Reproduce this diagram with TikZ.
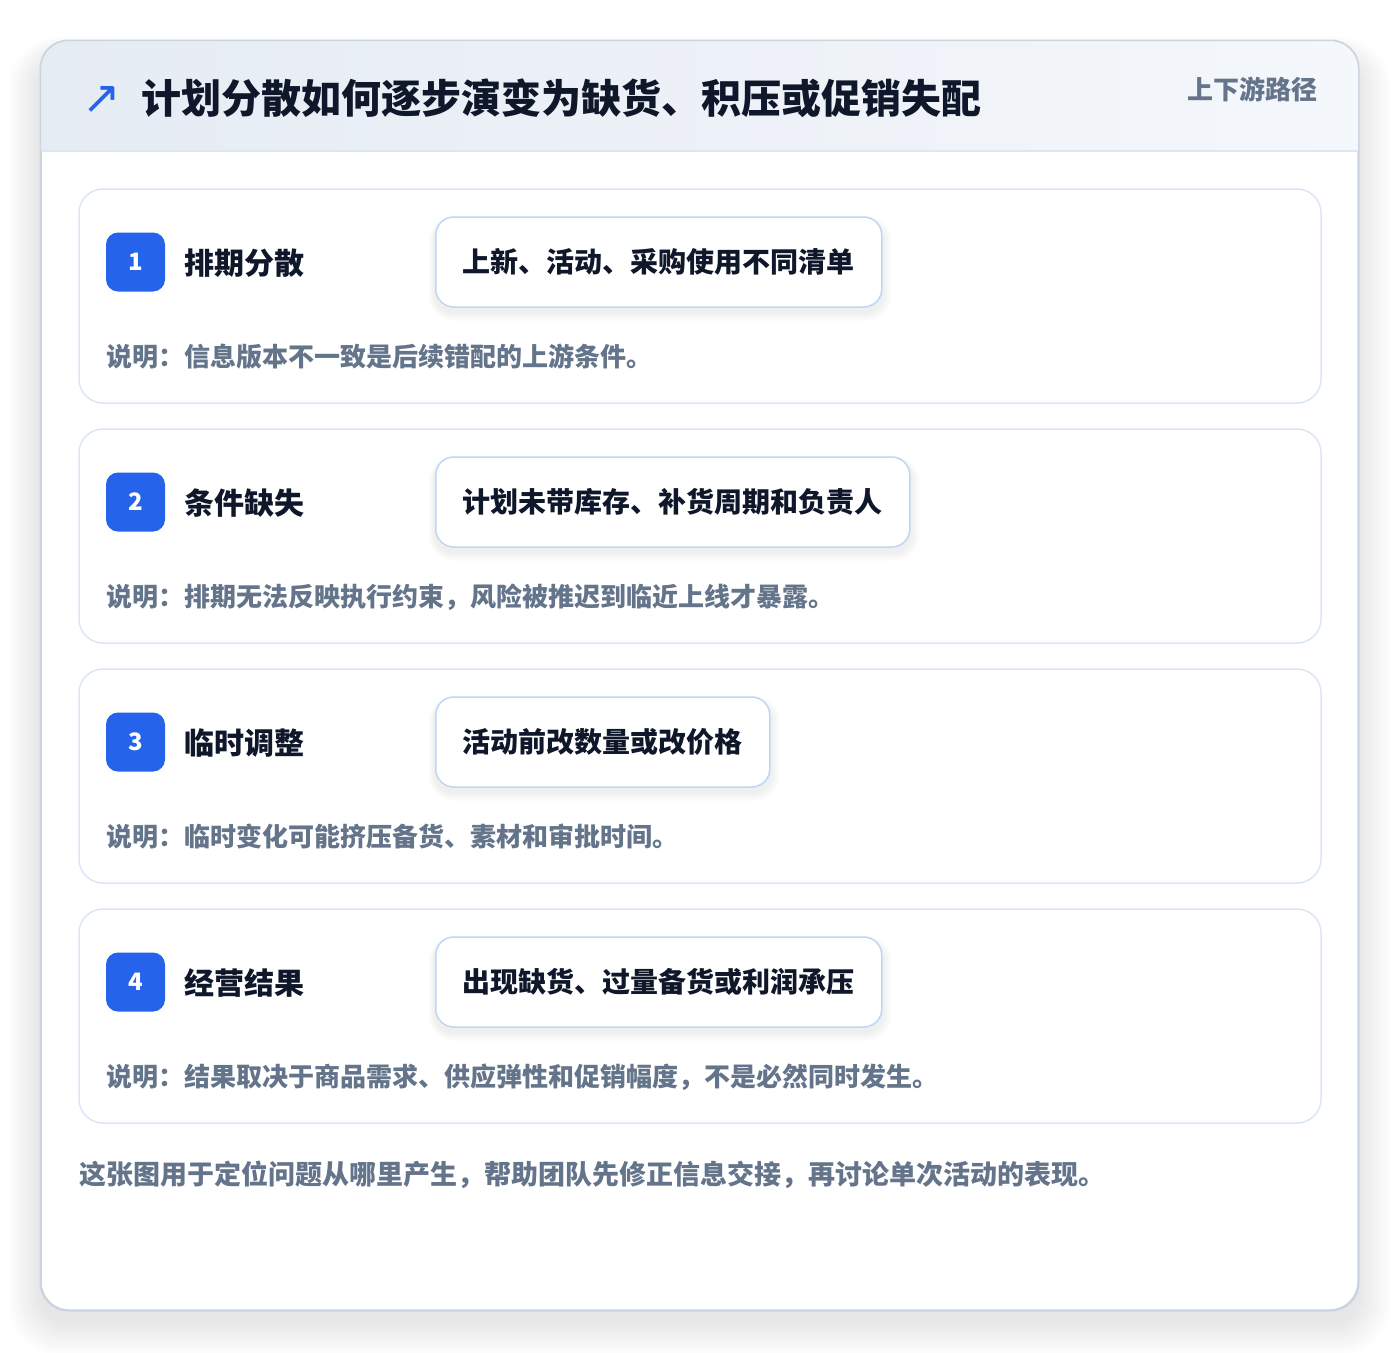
\documentclass[tikz,border=0pt]{standalone}
\usepackage{fontspec}
\setmainfont{Noto Sans CJK SC}
\newfontfamily\symfont{DejaVu Sans}
\usetikzlibrary{calc}
\definecolor{ink}{HTML}{0F172A}
\definecolor{muted}{HTML}{64748B}
\definecolor{accent}{HTML}{2563EB}
\definecolor{cardline}{HTML}{DCE7F6}
\definecolor{pillline}{HTML}{BFD6F4}
\definecolor{frameline}{HTML}{CBD5E1}
\definecolor{headL}{HTML}{E6ECF4}
\definecolor{headR}{HTML}{F4F7FB}
\newcommand{\fsz}[1]{\fontsize{#1}{#1}\selectfont}
\tikzset{
  frame/.style={draw=frameline, line width=1.5, fill=white, rounded corners=28,
    minimum width=1317, minimum height=1269, inner sep=0},
  stepcard/.style={draw=cardline, line width=1.5, fill=white, rounded corners=24,
    minimum width=1242, minimum height=214, inner sep=0},
  badge/.style={fill=accent, rounded corners=12, minimum width=59, minimum height=59,
    inner sep=0, text=white, font=\bfseries\fsz{24}},
  steptitle/.style={anchor=west, inner sep=0, text=ink, font=\bfseries\fsz{30}},
  pill/.style={anchor=west, draw=pillline, line width=1.5, fill=white, rounded corners=18,
    minimum height=90, inner xsep=27, inner ysep=0, text=ink, font=\bfseries\fsz{28}},
  note/.style={anchor=west, inner sep=0, text=muted, font=\bfseries\fsz{26}},
}
\begin{document}
\begin{tikzpicture}[x=1pt,y=-1pt]
\useasboundingbox (0,0) rectangle (1400,1352);
\fill[white] (0,0) rectangle (1400,1352);
% soft shadow of the frame
\foreach \k in {1,...,24}{
  \fill[black, opacity=0.005, rounded corners=28+\k]
    (41-1.4*\k, 58-0.9*\k) rectangle (1358+1.4*\k, 1322+1.4*\k);
}
% outer frame
\node[frame] (frame) at (699.5,675.5) {};
\begin{scope}
  \clip[rounded corners=28] (41,41) rectangle (1358,1310);
  \shade[left color=headL, right color=headR] (41,41) rectangle (1358,151);
\end{scope}
\draw[cardline, line width=1.5] (41,151) -- (1358,151);
\draw[frameline, line width=1.5, rounded corners=28] (frame.north west) rectangle (frame.south east);
% header
\node[anchor=center, inner sep=0, text=accent, font=\symfont\fsz{46}] (icon) at (101.5,99.5) {↗};
\node[anchor=west, inner sep=0, text=ink, font=\bfseries\fsz{40}] (title) at (141,98) {计划分散如何逐步演变为缺货、积压或促销失配};
\node[anchor=east, inner sep=0, text=muted, font=\bfseries\fsz{26}] (tag) at (1318,89) {上下游路径};
% steps
\foreach \i/\t/\p/\n in {
  1/排期分散/上新、活动、采购使用不同清单/说明：信息版本不一致是后续错配的上游条件。,
  2/条件缺失/计划未带库存、补货周期和负责人/说明：排期无法反映执行约束，风险被推迟到临近上线才暴露。,
  3/临时调整/活动前改数量或改价格/说明：临时变化可能挤压备货、素材和审批时间。,
  4/经营结果/出现缺货、过量备货或利润承压/说明：结果取决于商品需求、供应弹性和促销幅度，不是必然同时发生。}{
  \pgfmathsetmacro{\yy}{189+240*(\i-1)}
  \node[stepcard] (card\i) at (700,\yy+107) {};
  \node[badge] (badge\i) at (135.5,\yy+73) {\i};
  \node[steptitle] (title\i) at (184,\yy+74) {\t};
  \node[pill, draw=none, fill=none, text=white] (ghost\i) at (435,\yy+73) {\p};
  \foreach \k in {1,...,8}{
    \fill[black, opacity=0.006, rounded corners=18+\k]
      ($(ghost\i.north west)+(-0.8*\k,4-0.5*\k)$) rectangle ($(ghost\i.south east)+(1.2*\k,4+1.2*\k)$);
  }
  \node[pill] (pill\i) at (435,\yy+73) {\p};
  \node[note] (note\i) at (106,\yy+168) {\n};
}
\node[anchor=west, inner sep=0, text=muted, font=\bfseries\fsz{27}] (footer) at (79,1175) {这张图用于定位问题从哪里产生，帮助团队先修正信息交接，再讨论单次活动的表现。};
\end{tikzpicture}
\end{document}
